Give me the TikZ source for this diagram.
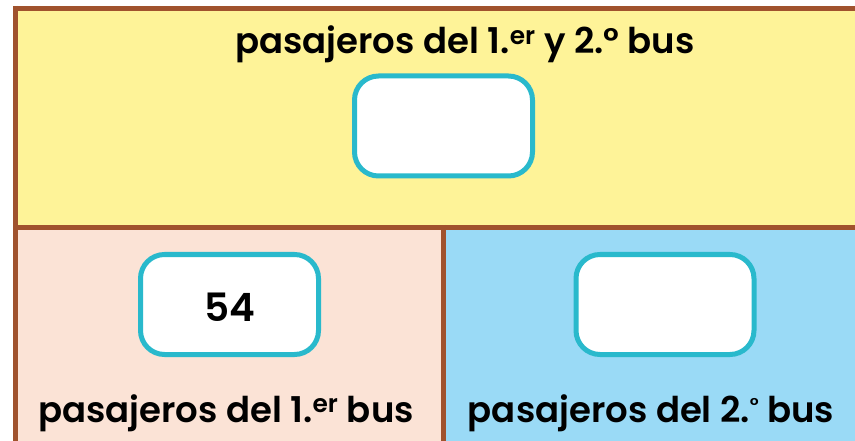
\documentclass[tikz,border=0pt]{standalone}
\usepackage{fontspec}
\setmainfont{Poppins}[BoldFont={Poppins SemiBold}]
\definecolor{frame}{HTML}{A0522D}
\definecolor{ylw}{HTML}{FEF398}
\definecolor{pnk}{HTML}{FBE3D6}
\definecolor{blu}{HTML}{9ADAF6}
\definecolor{teal}{HTML}{29B9CC}
\newcommand{\ordsup}[1]{\raisebox{10pt}{\fontsize{20}{20}\selectfont #1}}
\begin{document}
\begin{tikzpicture}[x=1pt,y=-1pt,
  answerbox/.style={draw=teal, line width=5pt, fill=white, rounded corners=24pt,
    minimum width=178pt, minimum height=100pt, inner sep=0pt},
  label/.style={font=\bfseries\fontsize{35.5}{40}\selectfont, anchor=base, inner sep=0pt},
  bignum/.style={font=\bfseries\fontsize{39}{44}\selectfont, anchor=base, inner sep=0pt}]
\useasboundingbox (0,0) rectangle (855,441);
\fill[white] (0,0) rectangle (855,441);
\fill[ylw] (15.5,8.5) rectangle (855,227.5);
\fill[pnk] (15.5,227.5) rectangle (443.5,441);
\fill[blu] (443.5,227.5) rectangle (855,441);
\draw[frame, line width=5pt] (855,8.5) -- (13,8.5);
\draw[frame, line width=5pt] (15.5,6) -- (15.5,441);
\draw[frame, line width=5pt] (13,227.5) -- (855,227.5);
\draw[frame, line width=5pt] (443.5,225) -- (443.5,441);
\node[answerbox] (total) at (443.5,126) {};
\node[answerbox] (first) at (229.5,304.5) {};
\node[answerbox] (second) at (665,304.5) {};
\node[label] (ttitle) at (465,54) {pasajeros del 1.\textsuperscript{er} y 2.° bus};
\node[label] (ftitle) at (226,422) {pasajeros del 1.\textsuperscript{er} bus};
\node[label] (stitle) at (651,422) {pasajeros del 2.\ordsup{°} bus};
\node[bignum] (num) at (230,321) {54};
\end{tikzpicture}
\end{document}
